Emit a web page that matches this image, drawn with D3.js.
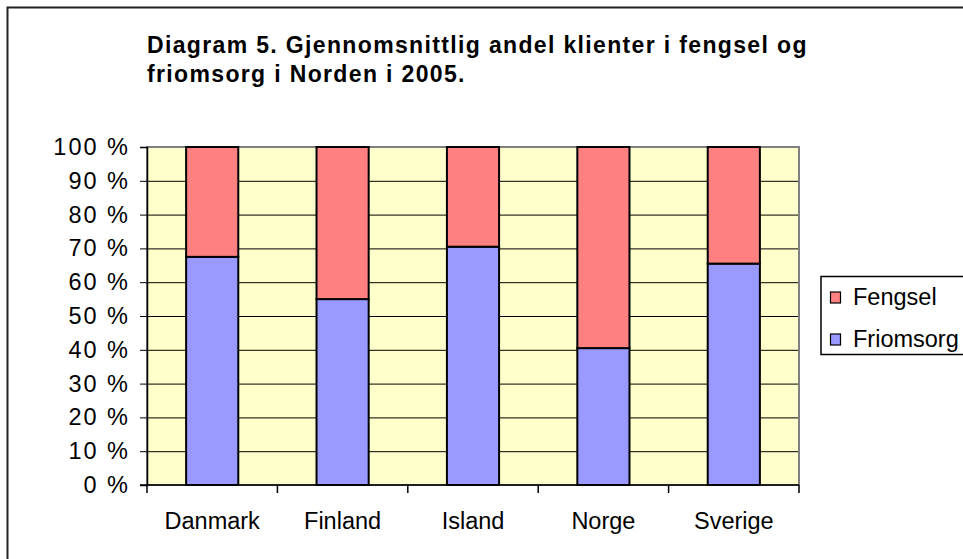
<!DOCTYPE html>
<html>
<head>
<meta charset="utf-8">
<script src="https://cdn.jsdelivr.net/npm/d3@7"></script>
<style>
  body { margin: 0; background: #fff; }
  svg { display: block; font-family: "Liberation Sans", Arial, sans-serif; }
</style>
</head>
<body>
<div id="chart"></div>
<script>
const countries = ["Danmark", "Finland", "Island", "Norge", "Sverige"]
const friomsorg = [67.5, 55, 70.5, 40.5, 65.5]
const fengsel = friomsorg.map(v => 100 - v)
const yTicks = [0, 10, 20, 30, 40, 50, 60, 70, 80, 90, 100]
const seriesNames = ["Fengsel", "Friomsorg"]
const seriesColors = {"Fengsel": "#ff8080", "Friomsorg": "#9999ff"}

const width = 963, height = 559
const plot = {left: 147, top: 147, right: 799, bottom: 485}
const labelSize = 23.5

const svg = d3.select("#chart").append("svg")
    .attr("width", width)
    .attr("height", height)

// outer chart frame
svg.append("rect")
    .attr("x", 7.5).attr("y", 7.5)
    .attr("width", 1000).attr("height", 600)
    .attr("fill", "#fff")
    .attr("stroke", "#222")
    .attr("stroke-width", 2)

// title
const title = svg.append("text")
    .attr("font-size", 23)
    .attr("font-weight", "bold")
    .attr("letter-spacing", 1.35)
    .attr("fill", "#000")
title.append("tspan").attr("x", 147).attr("y", 53)
    .text("Diagram 5. Gjennomsnittlig andel klienter i fengsel og")
title.append("tspan").attr("x", 147).attr("y", 82)
    .text("friomsorg i Norden i 2005.")

const xScale = d3.scaleBand()
    .domain(countries)
    .range([plot.left, plot.right])
    .paddingInner(0.6)
    .paddingOuter(0.3)

const xOuter = d3.scaleBand()
    .domain(countries)
    .range([plot.left, plot.right])

const yScale = d3.scaleLinear()
    .domain([0, 100])
    .range([plot.bottom, plot.top])

// plot background
svg.append("rect")
    .attr("x", plot.left).attr("y", plot.top)
    .attr("width", plot.right - plot.left)
    .attr("height", plot.bottom - plot.top)
    .attr("fill", "#ffffcc")

// gridlines
svg.append("g")
    .selectAll("line")
    .data(yTicks.filter(d => d > 0 && d < 100))
    .enter().append("line")
    .attr("x1", plot.left).attr("x2", plot.right)
    .attr("y1", d => yScale(d) + 0.5).attr("y2", d => yScale(d) + 0.5)
    .attr("stroke", "#000")
    .attr("stroke-width", 1)

// plot border
svg.append("rect")
    .attr("x", plot.left).attr("y", plot.top)
    .attr("width", plot.right - plot.left)
    .attr("height", plot.bottom - plot.top)
    .attr("fill", "none")
    .attr("stroke", "#808080")
    .attr("stroke-width", 2)

// stacked bars
const stack = countries.map((c, i) => ({country: c, friomsorg: friomsorg[i], fengsel: fengsel[i]}))
const series = d3.stack().keys(["Friomsorg", "Fengsel"])
    .value((d, key) => key === "Friomsorg" ? d.friomsorg : d.fengsel)(stack)

svg.append("g")
    .selectAll("g")
    .data(series)
    .enter().append("g")
    .attr("fill", d => seriesColors[d.key])
    .selectAll("rect")
    .data(d => d)
    .enter().append("rect")
    .attr("x", d => xScale(d.data.country))
    .attr("y", d => yScale(d[1]))
    .attr("width", xScale.bandwidth())
    .attr("height", d => yScale(d[0]) - yScale(d[1]))
    .attr("stroke", "#000")
    .attr("stroke-width", 2)

// y axis
const yAxis = svg.append("g")
    .attr("transform", "translate(" + plot.left + ",0)")
    .call(d3.axisLeft(yScale).tickValues(yTicks).tickSize(7).tickPadding(10)
        .tickFormat(d => d + " %"))
yAxis.select(".domain").attr("stroke", "#000").attr("stroke-width", 1.5)
yAxis.selectAll("text").attr("font-size", labelSize).attr("fill", "#000")
    .attr("letter-spacing", 2)
    .attr("font-family", "Liberation Sans, Arial, sans-serif")
yAxis.selectAll("line").attr("stroke", "#000")

// x axis
const xAxis = svg.append("g")
    .attr("transform", "translate(0," + plot.bottom + ")")
xAxis.append("line")
    .attr("x1", plot.left - 7).attr("x2", plot.right)
    .attr("y1", 0).attr("y2", 0)
    .attr("stroke", "#000").attr("stroke-width", 1.5)
xAxis.selectAll(".tick")
    .data(countries.map(c => xOuter(c)).concat([plot.right]))
    .enter().append("line")
    .attr("x1", d => d).attr("x2", d => d)
    .attr("y1", 0).attr("y2", 8)
    .attr("stroke", "#000").attr("stroke-width", 1.5)
xAxis.selectAll(".label")
    .data(countries)
    .enter().append("text")
    .attr("x", d => xOuter(d) + xOuter.bandwidth() / 2)
    .attr("y", 44)
    .attr("text-anchor", "middle")
    .attr("font-size", labelSize)
    .attr("fill", "#000")
    .text(d => d)

// legend
const legend = svg.append("g")
legend.append("rect")
    .attr("x", 821).attr("y", 276.5)
    .attr("width", 200).attr("height", 78)
    .attr("fill", "#fff")
    .attr("stroke", "#000")
    .attr("stroke-width", 1.5)
const items = legend.selectAll(".item")
    .data(seriesNames)
    .enter().append("g")
    .attr("transform", (d, i) => "translate(830," + (297 + i * 42) + ")")
items.append("rect")
    .attr("x", 0.5).attr("y", -5)
    .attr("width", 10).attr("height", 11)
    .attr("fill", d => seriesColors[d])
    .attr("stroke", "#000")
    .attr("stroke-width", 1.2)
items.append("text")
    .attr("x", 23).attr("y", 8)
    .attr("font-size", labelSize)
    .attr("fill", "#000")
    .text(d => d)
</script>
</body>
</html>
